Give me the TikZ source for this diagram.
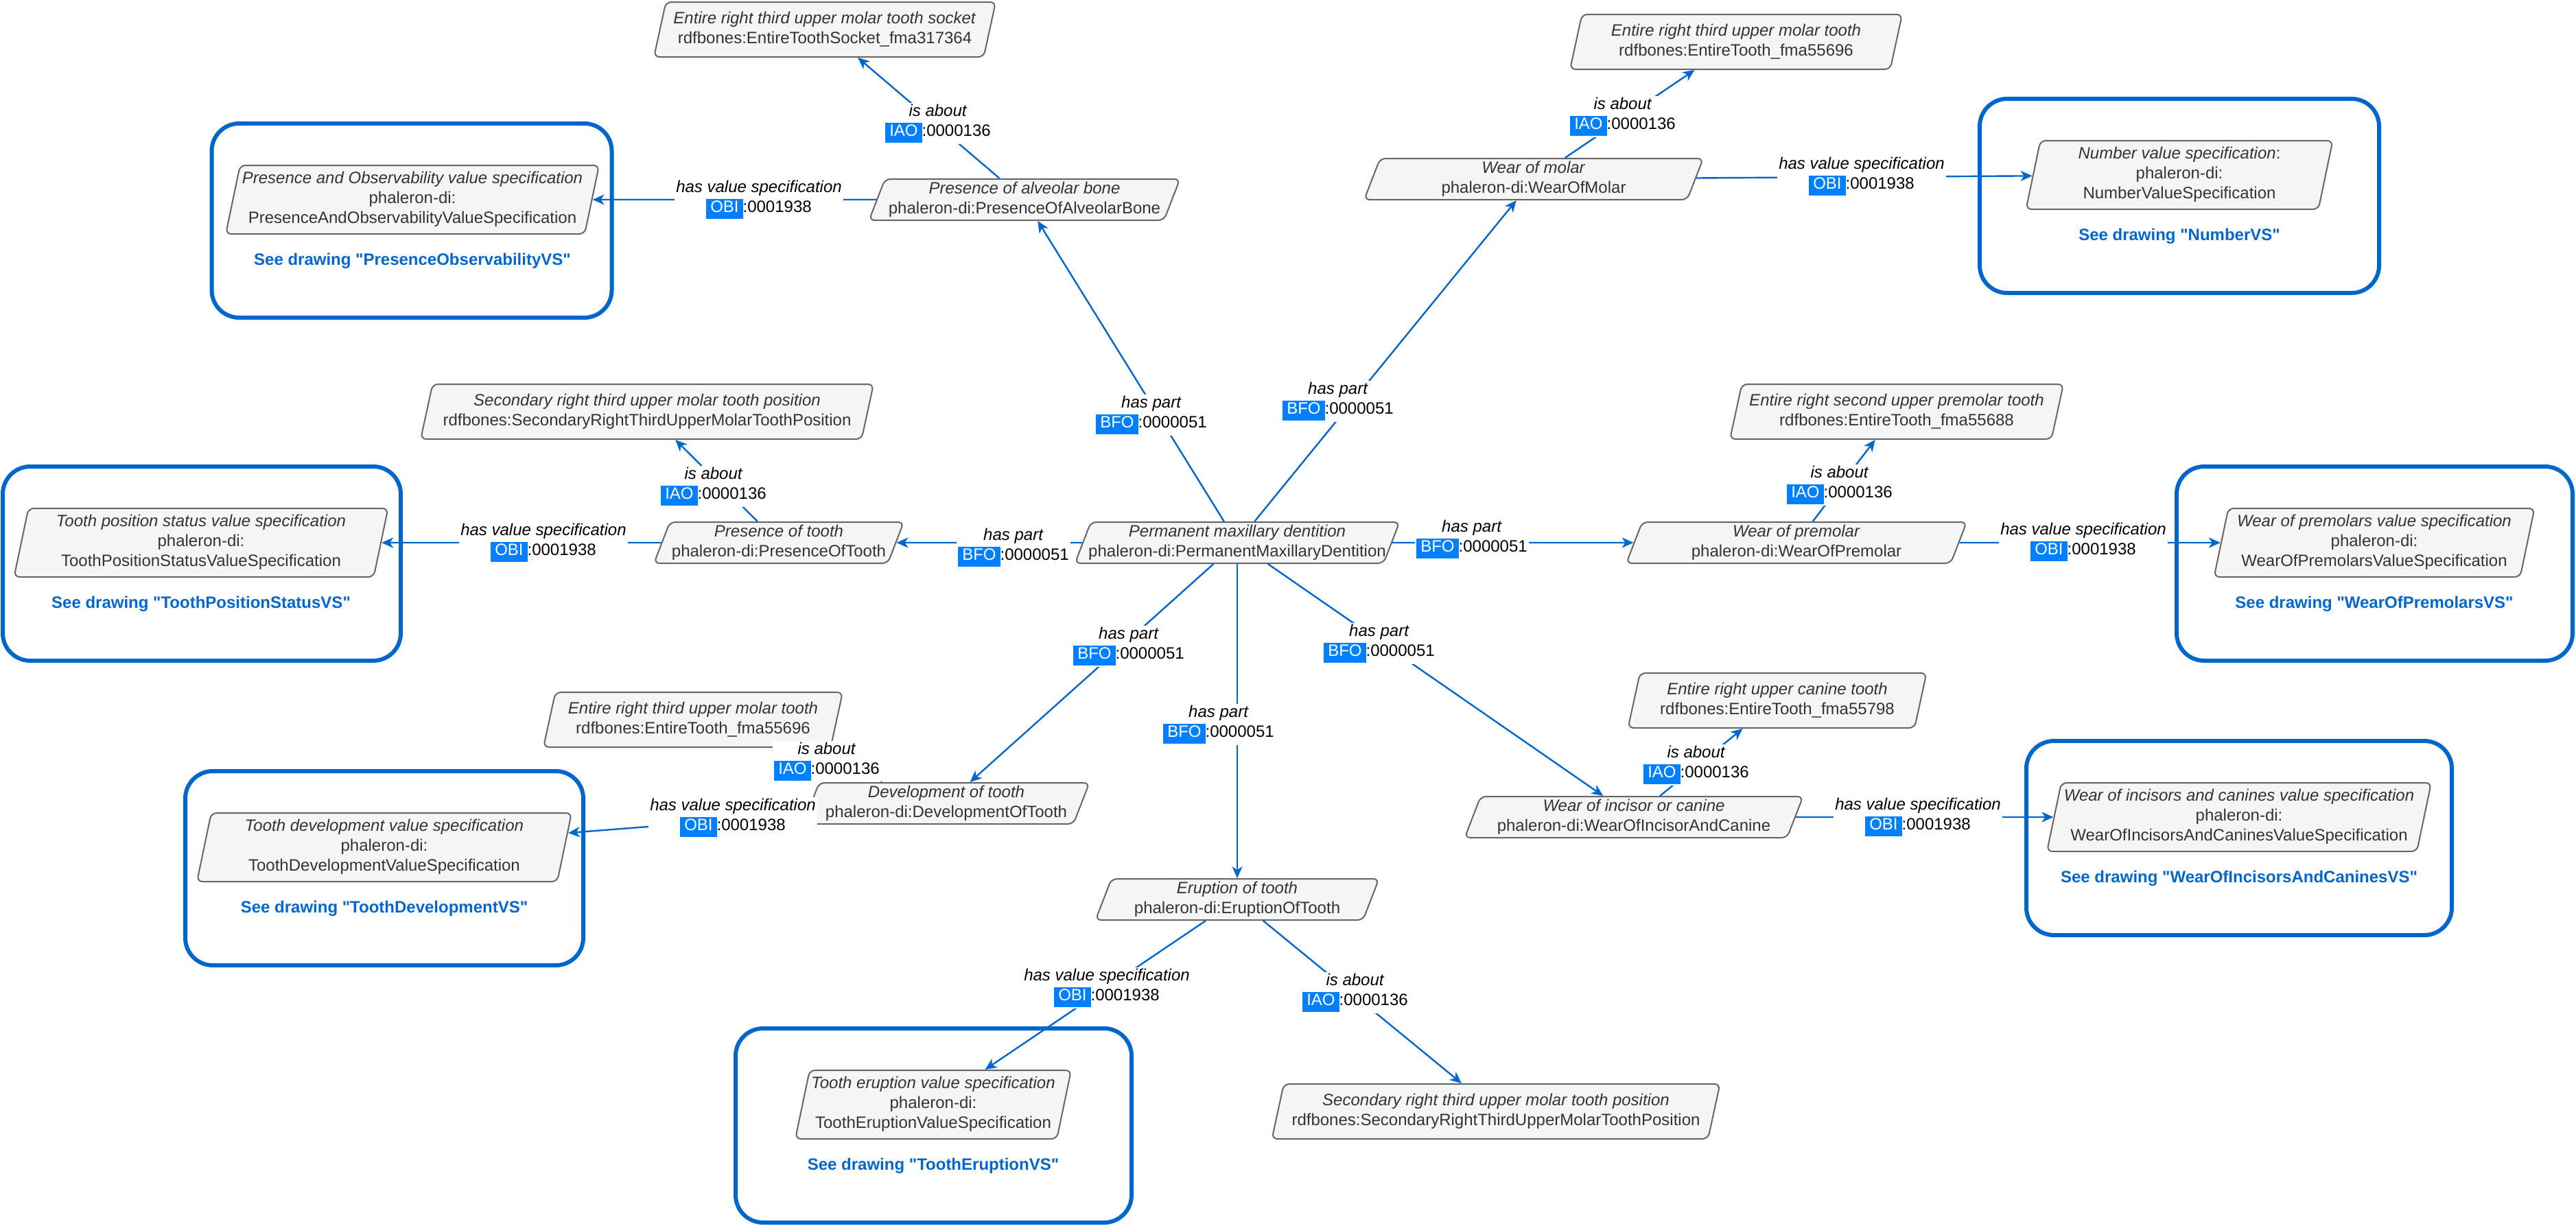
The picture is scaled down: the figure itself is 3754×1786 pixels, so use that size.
\documentclass[tikz,border=0pt]{standalone}
\usepackage{fontspec}
\setmainfont{Liberation Sans}[Ligatures=TeXOff]
\usetikzlibrary{shapes.geometric,arrows.meta}
\definecolor{edgeblue}{HTML}{0066CC}
\definecolor{tagblue}{HTML}{007FFF}
\definecolor{nodefill}{HTML}{F5F5F5}
\definecolor{nodeline}{HTML}{666666}
\definecolor{nodetext}{HTML}{333333}
\newcommand\onttag[1]{{\setlength{\fboxsep}{0pt}\colorbox{tagblue}{\strut\hspace{6pt}\textcolor{white}{#1}\hspace{6pt}}}}
\newcommand\twol[2]{\makebox[0pt]{\begin{tabular}{@{}c@{}}\textit{#1}\\#2\end{tabular}}}
\newcommand\threel[3]{\makebox[0pt]{\begin{tabular}{@{}c@{}}#1\\#2\\#3\end{tabular}}}
\tikzset{
  para/.style={trapezium, trapezium stretches body, draw=nodeline, fill=nodefill, line width=2pt,
    rounded corners=8pt, inner xsep=0pt, inner ysep=0pt, text=nodetext, font=\fontsize{24}{29}\selectfont},
  p60/.style={para, trapezium left angle=68.2, trapezium right angle=111.8, minimum height=60pt, minimum width=#1},
  p80/.style={para, trapezium left angle=73.3, trapezium right angle=106.7, minimum height=80pt, minimum width=#1},
  p100/.style={para, trapezium left angle=76.5, trapezium right angle=103.5, minimum height=100pt, minimum width=#1},
  vsbox/.style={draw=edgeblue, line width=6pt, rounded corners=40pt, minimum height=283pt, minimum width=#1, inner sep=0pt},
  vslabel/.style={text=edgeblue, font=\fontsize{24}{29}\selectfont\bfseries},
  lbl/.style={fill=white, align=center, inner sep=2pt, text=black, font=\fontsize{24}{29}\selectfont},
  rel/.style={draw=edgeblue, line width=2.4pt, -{Stealth[length=17pt,width=15pt,inset=5pt]}},
}
\begin{document}
\begin{tikzpicture}[x=1pt,y=-1pt]
\useasboundingbox (0,0) rectangle (3754,1786);
% value specification boxes
\node[vsbox=583pt] (b1) at (600,321.5) {};
\node[vsbox=582pt] (b2) at (3176,285.5) {};
\node[vsbox=580pt] (b3) at (294,821.5) {};
\node[vsbox=577pt] (b4) at (3460.5,821.5) {};
\node[vsbox=580pt] (b5) at (560,1265.5) {};
\node[vsbox=620pt] (b6) at (3263,1221.5) {};
\node[vsbox=577pt] (b7) at (1360.5,1640.5) {};
\node[vslabel] (t1) at (601,380) {See drawing "PresenceObservabilityVS"};
\node[vslabel] (t2) at (3176,344) {See drawing "NumberVS"};
\node[vslabel] (t3) at (293,880) {See drawing "ToothPositionStatusVS"};
\node[vslabel] (t4) at (3460,880) {See drawing "WearOfPremolarsVS"};
\node[vslabel] (t5) at (560,1324) {See drawing "ToothDevelopmentVS"};
\node[vslabel] (t6) at (3263,1280) {See drawing "WearOfIncisorsAndCaninesVS"};
\node[vslabel] (t7) at (1360,1699) {See drawing "ToothEruptionVS"};
% inner value specification nodes
\node[p100=544pt] (vs1) at (601,291) {\threel{\textit{Presence and Observability value specification}}{phaleron-di:}{PresenceAndObservabilityValueSpecification}};
\node[p100=447pt] (vs2) at (3176,255) {\threel{\textit{Number value specification}:}{phaleron-di:}{NumberValueSpecification}};
\node[p100=545pt] (vs3) at (293,791) {\threel{\textit{Tooth position status value specification}}{phaleron-di:}{ToothPositionStatusValueSpecification}};
\node[p100=467pt] (vs4) at (3460,791) {\threel{\textit{Wear of premolars value specification}}{phaleron-di:}{WearOfPremolarsValueSpecification}};
\node[p100=546pt] (vs5) at (560,1235) {\threel{\textit{Tooth development value specification}}{phaleron-di:}{ToothDevelopmentValueSpecification}};
\node[p100=560pt] (vs6) at (3263,1191) {\threel{\textit{Wear of incisors and canines value specification}}{phaleron-di:}{WearOfIncisorsAndCaninesValueSpecification}};
\node[p100=402pt] (vs7) at (1360,1610) {\threel{\textit{Tooth eruption value specification}}{phaleron-di:}{ToothEruptionValueSpecification}};
% main nodes
\node[p60=473pt] (pmd) at (1803,791) {\twol{Permanent maxillary dentition}{phaleron-di:PermanentMaxillaryDentition}};
\node[p60=453pt] (alv) at (1493,291) {\twol{Presence of alveolar bone}{phaleron-di:PresenceOfAlveolarBone}};
\node[p80=498pt] (socket) at (1202,43) {\twol{Entire right third upper molar tooth socket}{rdfbones:EntireToothSocket\_fma317364}};
\node[p60=494pt] (molar) at (2235,261) {\twol{Wear of molar}{phaleron-di:WearOfMolar}};
\node[p80=484pt] (molartooth) at (2530,61) {\twol{Entire right third upper molar tooth}{rdfbones:EntireTooth\_fma55696}};
\node[p60=364pt] (prestooth) at (1135,791) {\twol{Presence of tooth}{phaleron-di:PresenceOfTooth}};
\node[p80=660pt] (secpos1) at (943,600) {\twol{Secondary right third upper molar tooth position}{rdfbones:SecondaryRightThirdUpperMolarToothPosition}};
\node[p60=496pt] (premolar) at (2618,791) {\twol{Wear of premolar}{phaleron-di:WearOfPremolar}};
\node[p80=486pt] (premolartooth) at (2764,600) {\twol{Entire right second upper premolar tooth}{rdfbones:EntireTooth\_fma55688}};
\node[p60=417pt] (dev) at (1379,1171) {\twol{Development of tooth}{phaleron-di:DevelopmentOfTooth}};
\node[p80=436pt] (devtooth) at (1010,1049) {\twol{Entire right third upper molar tooth}{rdfbones:EntireTooth\_fma55696}};
\node[p60=493pt] (incisor) at (2381,1191) {\twol{Wear of incisor or canine}{phaleron-di:WearOfIncisorAndCanine}};
\node[p80=435pt] (canine) at (2590,1021) {\twol{Entire right upper canine tooth}{rdfbones:EntireTooth\_fma55798}};
\node[p60=413pt] (erupt) at (1803,1311) {\twol{Eruption of tooth}{phaleron-di:EruptionOfTooth}};
\node[p80=653pt] (secpos2) at (2180,1620) {\twol{Secondary right third upper molar tooth position}{rdfbones:SecondaryRightThirdUpperMolarToothPosition}};
% connectors
\draw[rel] (pmd) -- (alv);
\draw[rel] (pmd) -- (molar);
\draw[rel] (pmd) -- (prestooth);
\draw[rel] (pmd) -- (premolar);
\draw[rel] (pmd) -- (dev);
\draw[rel] (pmd) -- (erupt);
\draw[rel] (pmd) -- (incisor);
\draw[rel] (alv) -- (socket);
\draw[rel] (alv) -- (vs1);
\draw[rel] (molar) -- (molartooth);
\draw[rel] (molar) -- (vs2);
\draw[rel] (prestooth) -- (secpos1);
\draw[rel] (prestooth) -- (vs3);
\draw[rel] (premolar) -- (premolartooth);
\draw[rel] (premolar) -- (vs4);
\draw[rel] (dev) -- (devtooth);
\draw[rel] (dev) -- (vs5);
\draw[rel] (incisor) -- (canine);
\draw[rel] (incisor) -- (vs6);
\draw[rel] (erupt) -- (vs7);
\draw[rel] (erupt) -- (secpos2);
% connector labels
\node[lbl] (l1) at (1678,605) {\textit{has part}\\\onttag{BFO}:0000051};
\node[lbl] (l2) at (1950,585) {\textit{has part}\\\onttag{BFO}:0000051};
\node[lbl] (l3) at (1477,798) {\textit{has part}\\\onttag{BFO}:0000051};
\node[lbl] (l4) at (2145,786) {\textit{has part}\\\onttag{BFO}:0000051};
\node[lbl] (l5) at (1645,942) {\textit{has part}\\\onttag{BFO}:0000051};
\node[lbl] (l6) at (1776,1056) {\textit{has part}\\\onttag{BFO}:0000051};
\node[lbl] (l7) at (2010,938) {\textit{has part}\\\onttag{BFO}:0000051};
\node[lbl] (l8) at (1367,180) {\textit{is about}\\\onttag{IAO}:0000136};
\node[lbl] (l9) at (1106,291) {\textit{has value specification}\\\onttag{OBI}:0001938};
\node[lbl] (l10) at (2365,170) {\textit{is about}\\\onttag{IAO}:0000136};
\node[lbl] (l11) at (2713,257) {\textit{has value specification}\\\onttag{OBI}:0001938};
\node[lbl] (l12) at (1040,709) {\textit{is about}\\\onttag{IAO}:0000136};
\node[lbl] (l13) at (792,791) {\textit{has value specification}\\\onttag{OBI}:0001938};
\node[lbl] (l14) at (2681,707) {\textit{is about}\\\onttag{IAO}:0000136};
\node[lbl] (l15) at (3036,790) {\textit{has value specification}\\\onttag{OBI}:0001938};
\node[lbl] (l16) at (1205,1110) {\textit{is about}\\\onttag{IAO}:0000136};
\node[lbl] (l17) at (1068,1192) {\textit{has value specification}\\\onttag{OBI}:0001938};
\node[lbl] (l18) at (2472,1115) {\textit{is about}\\\onttag{IAO}:0000136};
\node[lbl] (l19) at (2795,1191) {\textit{has value specification}\\\onttag{OBI}:0001938};
\node[lbl] (l20) at (1613,1440) {\textit{has value specification}\\\onttag{OBI}:0001938};
\node[lbl] (l21) at (1975,1447) {\textit{is about}\\\onttag{IAO}:0000136};
\end{tikzpicture}
\end{document}
